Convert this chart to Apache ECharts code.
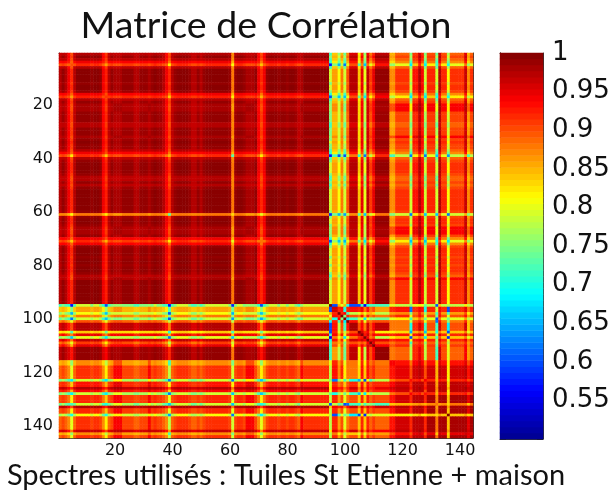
<!DOCTYPE html>
<html><head><meta charset="utf-8">
<style>html,body{margin:0;padding:0;background:#fff}#c{width:613px;height:492px}</style>
<script src="https://cdn.jsdelivr.net/npm/echarts@6/dist/echarts.min.js"></script></head>
<body><div id="c"></div>
<script>
// Estimated by eye: every spectrum index (1..144) is assigned to a group of look-alike spectra,
// and the correlation between two groups is read from the picture (table in hundredths).
const indexGroup = ("c b c d P c a a a a a b a a b d Q c b e e e b b b b c c b b b e b a b b c d R c b a a a a b c c b c b " +
 "a a a a a a a a b S b a a b e e e b d U d b a a a b a a b a a b c e a a a a a a a a a " +
 "s95 B1 B1 s98 s99 s100 s101 B2 B2 B2 s105 s106 s107 s108 s109 s110 B3 B3 B3 B3 B3 " +
 "C0 C0 C1 C1 C1 C1 C1 s123 C2 C2 s126 s127 s128 C3 C3 C3 s132 s133 C4 C4 s136 C5 C5 C5 C5 C5 s142 s143 C5").split(" ");
const groupNames = ["a","b","c","d","P","Q","R","S","U",
 "s95","B1","s98","s99","s100","s101","B2","s105","s106","s107","s108","s109","s110","B3",
 "C0","C1","s123","C2","s126","s127","s128","C3","s132","s133","C4","s136","C5","s142","s143","e"];
const groupCorr = [
 [99.5],
 [99,98.5],
 [97.5,97,96.5],
 [94.5,94,93.5,92.5],
 [92,91,90,89,90],
 [92.5,92,91,90,86,91],
 [92,91,90,88,82,84,85],
 [88,87.5,87,85,81,82,73,83],
 [92,91,90,88,84,85,82,80,88],
 [79,75,72,71,57,60,57,58,60,100],
 [86,85,84,82,75,76,72,74,76,60,96],
 [81,79,76,74,65,66,60,65,66,85,92,100],
 [88,87,85,83,78,78,75,76,78,80,93,92,100],
 [79,77,74,72,62,66,60,64,65,85,70,94,75,100],
 [90,89,87,85,80,80,78,78,80,70,92,72,92,68,100],
 [97.5,97,95.5,93,90,90,88,87,88,60,93,78,90,72,93,98],
 [84,83,82,80,72,74,70,72,74,60,92,80,88,78,86,90,100],
 [95,94,92,90,87,87,85,84,85,72,94,85,93,80,92,94,96,100],
 [80,78,76,74,66,68,62,66,68,56,88,80,85,68,80,88,92,93,100],
 [97,96,94,92,88,90,87,85,87,70,93,85,92,80,90,96,94,96,94,100],
 [91,90,88,86,80,82,78,79,80,72,88,85,88,75,88,90,88,90,88,94,100],
 [95,94,92,90,85,87,84,82,85,72,90,83,90,76,90,94,90,94,90,96,95,100],
 [99,98.5,97,95.5,93,94,92,88,93,72,86,78,88,74,90,97,82,93,78,95,90,94,99],
 [87,86,85,83,76,78,72,75,76,80,92,86,90,80,88,88,82,92,82,92,88,90,88,94],
 [91.5,90.5,89,87,80,82,78,79,82,78,93,87,92,82,88,88,83,93,84,93,90,92,89,93,95],
 [79,77,75,72,68,68,62,62,66,76,62,75,80,72,78,70,65,80,60,80,72,76,78,88,90,93],
 [93,92,91,89,84,85,82,82,84,80,92,88,90,84,90,92,85,93,85,93,90,92,92,94,96,92,97],
 [97.5,97,96,94,92,92,90,88,90,82,94,92,93,88,92,96,88,95,88,94,92,93,95,96,97,93,97,98],
 [94,93,92,90,85,86,83,84,85,80,93,88,91,85,90,93,86,93,86,93,90,92,92,94,96,90,97,97,97],
 [79,77,75,72,68,68,62,66,66,74,70,76,80,74,80,72,66,80,68,82,76,78,78,88,90,94,92,93,90,93],
 [92,91,90,88,82,84,80,80,82,78,92,86,90,80,88,90,84,92,84,92,89,91,90,93,96,92,97,97,97,92,98],
 [79,77,74,72,72,70,66,66,70,60,78,72,75,60,62,72,70,78,72,76,75,74,72,84,85,85,86,87,86,85,87,88],
 [97.5,97,96,94,90,92,90,88,90,84,94,92,93,88,93,96,88,95,90,95,92,94,96,95,97,93,97,98,97,93,98,86,98],
 [92,91,90,88,82,84,80,80,82,78,92,86,90,80,88,90,84,92,84,92,89,91,90,93,96,92,97,97,97,92,98,87,98,98],
 [81,79,77,74,70,70,64,62,68,78,60,72,80,74,76,68,60,82,58,80,78,80,80,82,82,80,83,85,82,82,84,83,86,84,100],
 [91.5,90.5,89,87,80,82,78,79,80,78,92,86,90,80,88,90,84,92,84,92,89,91,89,93,96,92,97,97,97,92,98,88,98,98,84,98],
 [96.5,96,95,93,88,90,86,85,87,82,95,90,93,86,92,96,88,95,88,95,92,94,94,95,97,93,97,98,97,93,98,88,98,98,86,98,98],
 [87,86,85,83,76,78,72,75,76,78,88,82,86,78,84,84,80,88,80,88,86,87,86,90,93,90,95,96,95,90,95,84,96,95,83,95,96,95],
 [98,97.5,96.5,93.5,90,91,90,86,90,76,87,79,88,75,90,97,83,94,78,96,91,94,98,90,94,82,95,98,95,80,94,80,98,94,82,94,97,89,98]
];
const xTickLabels = [20,40,60,80,100,120,140];
const yTickLabels = [20,40,60,80,100,120,140];
const barTicks = [1,0.95,0.9,0.85,0.8,0.75,0.7,0.65,0.6,0.55];
const barRange = [0.5,1];
const barLevels = 64;
const titleText = "Matrice de Corrélation";
const captionText = "Spectres utilisés : Tuiles St Etienne + maison";

const jet = ["#00008f","#0000ff","#0080ff","#00ffff","#80ff80","#ffff00","#ff8000","#ff0000","#800000"];
const N = indexGroup.length;
const indices = indexGroup.map((_, i) => String(i + 1));
const look = (p, q) => {
  const a = groupNames.indexOf(p), b = groupNames.indexOf(q);
  return groupCorr[Math.max(a, b)][Math.min(a, b)] / 100;
};
const cells = [];
for (let r = 0; r < N; r++) for (let c = 0; c < N; c++)
  cells.push([c, r, look(indexGroup[r], indexGroup[c])]);
const levels = Array.from({length: barLevels}, (_, i) => barRange[0] + (i + 0.5) * (barRange[1] - barRange[0]) / barLevels);
const every20 = i => xTickLabels.includes(i + 1);
const frame = "#333";
const axisFont = "DejaVu Sans";
const tick = {show: true, inside: true, length: 3, interval: every20, lineStyle: {color: "#222"}, alignWithLabel: true};
const catAxis = (extra) => Object.assign({
  type: "category", data: indices, boundaryGap: true,
  axisLine: {show: true, onZero: false, lineStyle: {color: frame, width: 1}},
  axisTick: tick, splitLine: {show: false}, splitArea: {show: false}
}, extra);
const lab = {interval: every20, fontFamily: axisFont, fontSize: 16, color: "#111"};
const barTick = {show: true, inside: true, length: 6, lineStyle: {color: "#222"}};
const option = {
  animation: false,
  backgroundColor: "#fff",
  textStyle: {fontFamily: axisFont},
  graphic: [
    {type: "text", x: 266, y: 26, style: {text: titleText, fill: "#111", font: "37.5px Lato", textAlign: "center", textVerticalAlign: "middle"}},
    {type: "text", x: 286, y: 476, style: {text: captionText, fill: "#111", font: "29px Lato", textAlign: "center", textVerticalAlign: "middle"}}
  ],
  visualMap: {show: false, type: "continuous", min: barRange[0], max: barRange[1], inRange: {color: jet}, seriesIndex: [0, 1], calculable: false},
  grid: [
    {left: 59, top: 53, width: 414, height: 385, show: false},
    {left: 500, top: 53, width: 43, height: 386, show: false}
  ],
  xAxis: [
    catAxis({gridIndex: 0, position: "bottom", axisLabel: Object.assign({}, lab, {margin: 5})}),
    catAxis({gridIndex: 0, position: "top", axisLabel: {show: false}}),
    {gridIndex: 1, type: "category", data: ["c"], position: "bottom", axisLine: {lineStyle: {color: frame}}, axisTick: {show: false}, axisLabel: {show: false}},
    {gridIndex: 1, type: "category", data: ["c"], position: "top", axisLine: {lineStyle: {color: frame}}, axisTick: {show: false}, axisLabel: {show: false}}
  ],
  yAxis: [
    catAxis({gridIndex: 0, inverse: true, position: "left", axisLabel: Object.assign({}, lab, {margin: 6})}),
    catAxis({gridIndex: 0, inverse: true, position: "right", axisLabel: {show: false}}),
    {gridIndex: 1, type: "category", data: levels.map(String), position: "left", axisLine: {lineStyle: {color: frame}}, axisTick: {show: false}, axisLabel: {show: false}},
    {gridIndex: 1, type: "value", min: barRange[0], max: barRange[1], interval: 0.05, position: "right", splitLine: {show: false},
      axisLine: {show: true, lineStyle: {color: frame}}, axisTick: barTick,
      axisLabel: {margin: 9, padding: [4, 0, 0, 0], fontFamily: axisFont, fontSize: 26, color: "#111",
        formatter: v => (barTicks.some(t => Math.abs(t - v) < 1e-6) ? String(+v.toFixed(2)) : "")}},
    {gridIndex: 1, type: "value", min: barRange[0], max: barRange[1], interval: 0.05, position: "left", splitLine: {show: false},
      axisLine: {show: true, lineStyle: {color: frame}}, axisTick: barTick, axisLabel: {show: false}}
  ],
  series: [
    {type: "heatmap", xAxisIndex: 0, yAxisIndex: 0, data: cells, progressive: 0, itemStyle: {borderWidth: 0}, emphasis: {disabled: true}},
    {type: "heatmap", xAxisIndex: 2, yAxisIndex: 2, data: levels.map((v, i) => [0, i, v]), progressive: 0, itemStyle: {borderWidth: 0}, emphasis: {disabled: true}}
  ]
};
echarts.init(document.getElementById("c"), null, {renderer: "canvas"}).setOption(option);
</script></body></html>
